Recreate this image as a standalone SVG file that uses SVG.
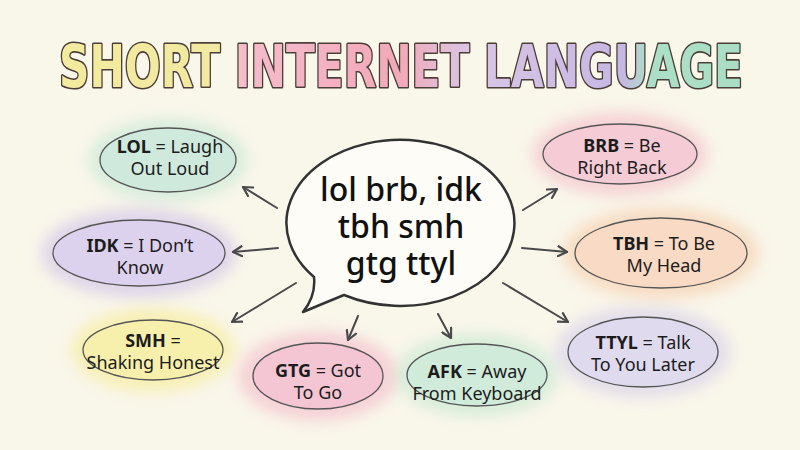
<svg xmlns="http://www.w3.org/2000/svg" width="800" height="450" viewBox="0 0 800 450">
<defs>
<linearGradient id="tg" x1="57" y1="0" x2="745" y2="0" gradientUnits="userSpaceOnUse">
<stop offset="0" stop-color="#f3eb9e"/>
<stop offset="0.24" stop-color="#f2e9a2"/>
<stop offset="0.27" stop-color="#f5bccb"/>
<stop offset="0.5" stop-color="#f2a9b9"/>
<stop offset="0.6" stop-color="#d9c6e4"/>
<stop offset="0.82" stop-color="#c6b7e4"/>
<stop offset="0.86" stop-color="#acdfc6"/>
<stop offset="1" stop-color="#a9dec4"/>
</linearGradient>
<filter id="blur" x="-50%" y="-50%" width="200%" height="200%"><feGaussianBlur stdDeviation="7"/></filter>
<marker id="ah" viewBox="0 0 12 12" refX="10" refY="6" markerWidth="12" markerHeight="12" markerUnits="userSpaceOnUse" orient="auto">
<path d="M1,1 L10,6 L1,11" fill="none" stroke="#4a4a4a" stroke-width="2.2" stroke-linecap="round" stroke-linejoin="round"/>
</marker>
</defs>
<style>
.title{font-family:"DejaVu Sans Condensed","DejaVu Sans",sans-serif;font-weight:bold;font-size:58px;fill:url(#tg);stroke:#4b3d38;stroke-width:3.2;stroke-linejoin:round;paint-order:stroke fill}
.node ellipse.b{stroke:#555;stroke-width:1.3}
.halo{filter:url(#blur);opacity:0.55}
.lbl{font-family:"Noto Sans","Open Sans",sans-serif;font-size:18px;fill:#1c1c1c;text-anchor:middle}
.lbl .k{font-weight:bold}
.big{font-family:"Noto Sans","Open Sans",sans-serif;font-size:32px;font-weight:500;fill:#111;text-anchor:middle}
.conn line{stroke:#4a4a4a;stroke-width:2;stroke-linecap:round;marker-end:url(#ah)}
</style>
<rect width="800" height="450" fill="#f9f6ea"/>
<text class="title" x="59" y="87" textLength="684" lengthAdjust="spacingAndGlyphs">SHORT INTERNET LANGUAGE</text>

<g id="center">
<path d="M 314 277 A 114 83 0 1 1 344 295 Q 322 304 303 312 Q 316 296 314 277 Z" fill="#fdfcf6" stroke="#333" stroke-width="2.5" stroke-linejoin="round"/>
<text class="big" x="401" y="201">lol brb, idk</text>
<text class="big" x="401" y="238">tbh smh</text>
<text class="big" x="401" y="275">gtg ttyl</text>
</g>

<g id="lol" class="node">
<ellipse class="halo" cx="168" cy="160" rx="80" ry="42" fill="#bfe6d3"/>
<ellipse class="b" cx="168" cy="160" rx="68" ry="32" fill="#cfeadc"/>
<text class="lbl" x="170" y="153"><tspan class="k">LOL</tspan> = Laugh</text>
<text class="lbl" x="170" y="175">Out Loud</text>
</g>

<g id="idk" class="node">
<ellipse class="halo" cx="139" cy="253" rx="98" ry="45" fill="#cbbde8"/>
<ellipse class="b" cx="139" cy="253" rx="86" ry="33" fill="#dcd2ee"/>
<text class="lbl" x="140" y="252"><tspan class="k">IDK</tspan> = I Don’t</text>
<text class="lbl" x="140" y="274">Know</text>
</g>

<g id="smh" class="node">
<ellipse class="halo" cx="153" cy="350" rx="82" ry="42" fill="#f5ea8c"/>
<ellipse class="b" cx="153" cy="350" rx="70" ry="30" fill="#f7f0ac"/>
<text class="lbl" x="153" y="347"><tspan class="k">SMH</tspan> =</text>
<text class="lbl" x="153" y="369">Shaking Honest</text>
</g>

<g id="gtg" class="node">
<ellipse class="halo" cx="318" cy="376" rx="80" ry="45" fill="#f3b5c7"/>
<ellipse class="b" cx="318" cy="376" rx="65" ry="33" fill="#f4c6d3"/>
<text class="lbl" x="318" y="377"><tspan class="k">GTG</tspan> = Got</text>
<text class="lbl" x="318" y="399">To Go</text>
</g>

<g id="afk" class="node">
<ellipse class="halo" cx="477" cy="375" rx="82" ry="42" fill="#bfe6cf"/>
<ellipse class="b" cx="477" cy="375" rx="70" ry="31" fill="#d1ebdb"/>
<text class="lbl" x="477" y="378"><tspan class="k">AFK</tspan> = Away</text>
<text class="lbl" x="477" y="400">From Keyboard</text>
</g>

<g id="ttyl" class="node">
<ellipse class="halo" cx="643" cy="352" rx="88" ry="46" fill="#d2cbea"/>
<ellipse class="b" cx="643" cy="352" rx="75" ry="35" fill="#dfdaee"/>
<text class="lbl" x="643" y="349"><tspan class="k">TTYL</tspan> = Talk</text>
<text class="lbl" x="643" y="371">To You Later</text>
</g>

<g id="tbh" class="node">
<ellipse class="halo" cx="661" cy="253" rx="98" ry="46" fill="#f5c8a6"/>
<ellipse class="b" cx="661" cy="253" rx="86" ry="35" fill="#f8dac5"/>
<text class="lbl" x="664" y="250"><tspan class="k">TBH</tspan> = To Be</text>
<text class="lbl" x="664" y="272">My Head</text>
</g>

<g id="brb" class="node">
<ellipse class="halo" cx="620" cy="154" rx="88" ry="42" fill="#f3b8c6"/>
<ellipse class="b" cx="620" cy="154" rx="77" ry="30" fill="#f5cbd5"/>
<text class="lbl" x="622" y="152"><tspan class="k">BRB</tspan> = Be</text>
<text class="lbl" x="622" y="174">Right Back</text>
</g>

<g id="connectors" class="conn">
<line x1="277" y1="208" x2="243" y2="187"/>
<line x1="278" y1="248" x2="233" y2="252"/>
<line x1="296" y1="283" x2="232" y2="322"/>
<line x1="358" y1="316" x2="348" y2="340"/>
<line x1="438" y1="314" x2="451" y2="338"/>
<line x1="503" y1="283" x2="568" y2="322"/>
<line x1="522" y1="248" x2="567" y2="252"/>
<line x1="523" y1="210" x2="557" y2="189"/>
</g>
</svg>
